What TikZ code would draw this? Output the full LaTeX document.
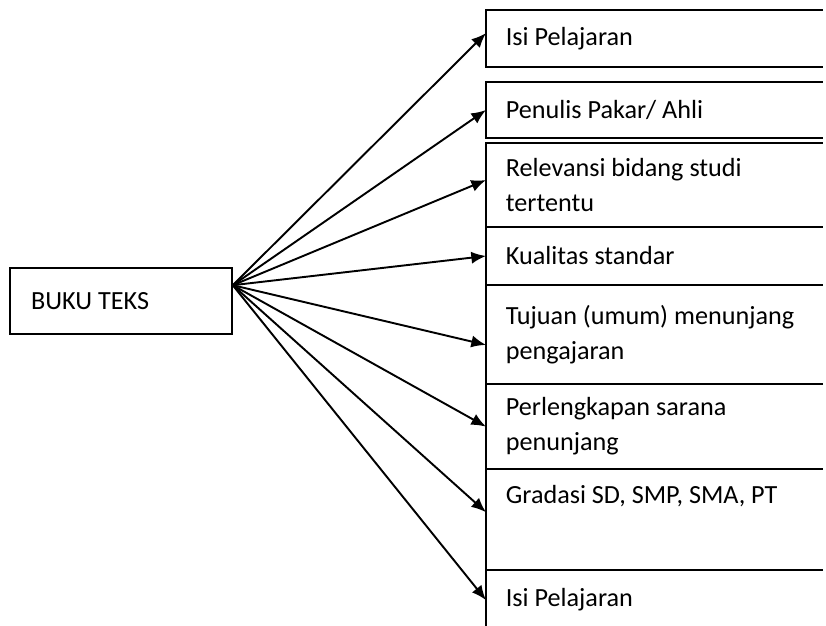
\documentclass[tikz,border=0pt]{standalone}
\usepackage{fontspec}
\setmainfont{Carlito}
\usetikzlibrary{arrows.meta}
\tikzset{
  item/.style = {anchor = north west, outer sep = 0pt, text width = 131.5pt,
    inner xsep = 8.8pt, align = flush left},
  frame/.style = {line width = .7pt},
  link/.style = {-{Latex[length = 6.5pt, width = 5.4pt]}, line width = .85pt}
}
\begin{document}
\begin{tikzpicture}[x = .443pt, y = -.443pt,
  font = \fontsize{11.6}{15.5}\selectfont]
  \useasboundingbox (0, 0) rectangle (826, 625);
  % source box
  \node[draw, frame, minimum width = 98.3pt, minimum height = 29.2pt,
  text width = 79.7pt, inner xsep = 9.3pt, align = flush left] (buku) at
  (121, 301) {BUKU TEKS};
  \coordinate (hub) at ([yshift = 7pt]buku.east);
  % target boxes (cut off at the right edge)
  \node[item, minimum height = 25.3pt] (isi) at (486, 10) {Isi Pelajaran};
  \node[item, minimum height = 24.8pt] (penulis) at (486, 82)
  {Penulis Pakar/ Ahli};
  \node[item, minimum height = 37.2pt] (relevansi) at (486, 143)
  {Relevansi bidang studi\\tertentu};
  \node[item, minimum height = 25.7pt] (kualitas) at (relevansi.south west)
  {Kualitas standar};
  \node[item, minimum height = 43.9pt] (tujuan) at (kualitas.south west)
  {Tujuan (umum) menunjang\\pengajaran};
  \node[item, minimum height = 37.7pt] (sarana) at (tujuan.south west)
  {Perlengkapan sarana\\penunjang};
  \node[item, minimum height = 44.7pt, text height = 8pt,
  text depth = 22pt] (gradasi) at (sarana.south west)
  {Gradasi SD, SMP, SMA, PT};
  \node[item, minimum height = 26.6pt] (isi2) at (gradasi.south west)
  {Isi Pelajaran};
  \foreach \b in {isi, penulis, relevansi, kualitas, tujuan, sarana, gradasi,
    isi2}
    \draw[frame] (\b.north east) -- (\b.north west) -- (\b.south west) --
    (\b.south east);
  % arrows
  \draw[link] (hub) -- ([yshift = 2.4pt]isi.west);
  \draw[link] (hub) -- (penulis.west);
  \draw[link] (hub) -- ([yshift = 2.2pt]relevansi.west);
  \draw[link] (hub) -- (kualitas.west);
  \draw[link] (hub) -- ([yshift = -4.6pt]tujuan.west);
  \draw[link] (hub) -- (sarana.west);
  \draw[link] (hub) -- ([yshift = 3.3pt]gradasi.west);
  \draw[link] (hub) -- (isi2.west);
\end{tikzpicture}
\end{document}
